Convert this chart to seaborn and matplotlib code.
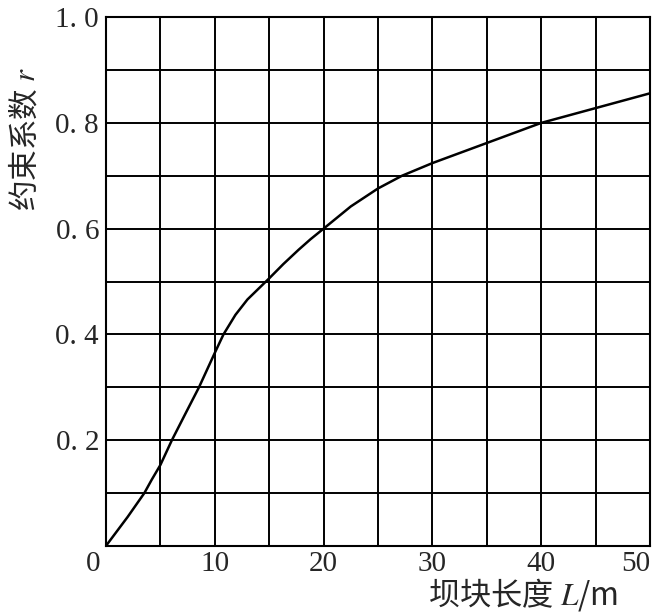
import matplotlib
matplotlib.use("Agg")
import matplotlib.pyplot as plt
from matplotlib.transforms import ScaledTranslation
import numpy as np
import pandas as pd
import seaborn as sns

# curve (L in m, r)
length_m = [0, 2, 3.53, 4.2, 5, 6.06, 7.3, 8.55, 10, 10.8, 11.9, 13.0, 15,
            16.3, 17.7, 18.8, 20, 22.5, 25, 27.2, 30, 35, 40, 45, 50]
restraint_r = [0, 0.055, 0.10, 0.125, 0.153, 0.20, 0.25, 0.30, 0.365, 0.40,
               0.437, 0.466, 0.506, 0.533, 0.56, 0.58, 0.60, 0.642, 0.676,
               0.70, 0.724, 0.762, 0.80, 0.828, 0.856]

x_ticks = [0, 10, 20, 30, 40, 50]
x_labels = ["0", "10", "20", "30", "40", "50"]
y_ticks = [0.2, 0.4, 0.6, 0.8, 1.0]
y_labels = ["0. 2", "0. 4", "0. 6", "0. 8", "1. 0"]

sns.set_style("white")
plt.rcParams["font.family"] = ["Liberation Serif", "Noto Sans CJK SC", "DejaVu Sans"]
plt.rcParams["mathtext.fontset"] = "stix"

df = pd.DataFrame({"L": length_m, "r": restraint_r})

fig = plt.figure(figsize=(6.54, 6.12), dpi=100)
ax = fig.add_axes([0.162, 0.108, 0.832, 0.864])

sns.lineplot(data=df, x="L", y="r", color="black", linewidth=1.8, ax=ax,
             zorder=3)

ax.set_xlim(0, 50)
ax.set_ylim(0, 1.0)
for v in np.arange(5, 50, 5):
    ax.axvline(v, color="black", linewidth=1.4, zorder=1)
for v in np.arange(0.1, 1.0, 0.1):
    ax.axhline(v, color="black", linewidth=1.4, zorder=1)
for s in ax.spines.values():
    s.set_color("black")
    s.set_linewidth(1.5)

ax.set_xticks(x_ticks)
ax.set_xticklabels(x_labels, fontsize=21)
ax.set_yticks(y_ticks)
ax.set_yticklabels(y_labels, fontsize=21)
ax.tick_params(axis="x", length=0, pad=4)
ax.tick_params(axis="y", length=0, pad=5)
xt = ax.get_xticklabels()
xt[0].set_horizontalalignment("right")
xt[0].set_transform(xt[0].get_transform() + ScaledTranslation(-0.06, 0, fig.dpi_scale_trans))
xt[-1].set_horizontalalignment("right")

ax.set_xlabel("")
ax.set_ylabel("")
fig.text(0.945, 0.028, "坝块长度 $L$/m", fontsize=22.5, ha="right", va="center",
         family=["Noto Sans CJK SC", "DejaVu Sans"])
fig.text(0.038, 0.772, "约束系数 $r$", fontsize=22, rotation=90, ha="center",
         va="center", family=["Noto Sans CJK SC", "DejaVu Sans"])

fig.savefig("out.png", dpi=100)
